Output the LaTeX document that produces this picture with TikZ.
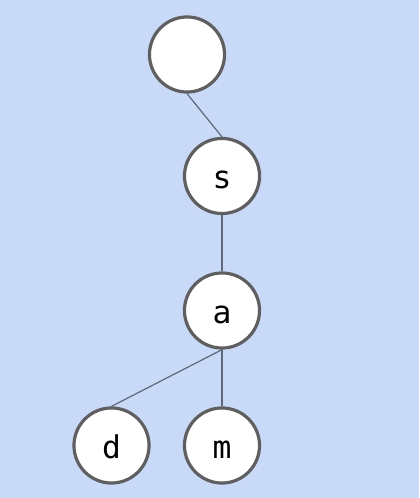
\documentclass[tikz,border=0pt]{standalone}
\usepackage{fontspec}
\setmonofont{DejaVu Sans Mono}
\usetikzlibrary{calc}
\definecolor{bgblue}{HTML}{C9DAF8}
\definecolor{ringgray}{HTML}{5F5F61}
\definecolor{edgegray}{HTML}{5E6878}
\tikzset{
  trienode/.style={circle,draw=ringgray,line width=2.4pt,fill=white,
    minimum size=56.3pt,inner sep=0pt,text height=19.5pt,text depth=0pt,
    font=\ttfamily\fontsize{23.5}{23.5}\selectfont},
  trieedge/.style={edgegray,line width=0.9pt}
}
\begin{document}
\begin{tikzpicture}[x=0.75pt,y=-0.75pt]
        \fill[bgblue] (0,0) rectangle (419,498);
        \useasboundingbox (0,0) rectangle (419,498);
        \def\rowgap{134.5};
        \node[trienode] (root) at (187,54.5) {};
        \node[trienode] (s) at (222,176) {s};
        \node[trienode] (a) at (222,176+\rowgap) {a};
        \node[trienode] (d) at (111.5,445.5) {d};
        \node[trienode] (m) at (222,445.5) {m};
        \draw[trieedge] (root.south) -- (s.north);
        \draw[trieedge] (s.south) -- (a.north);
        \draw[trieedge] (a.south) -- (d.north);
        \draw[trieedge] (a.south) -- (m.north);
\end{tikzpicture}
\end{document}
